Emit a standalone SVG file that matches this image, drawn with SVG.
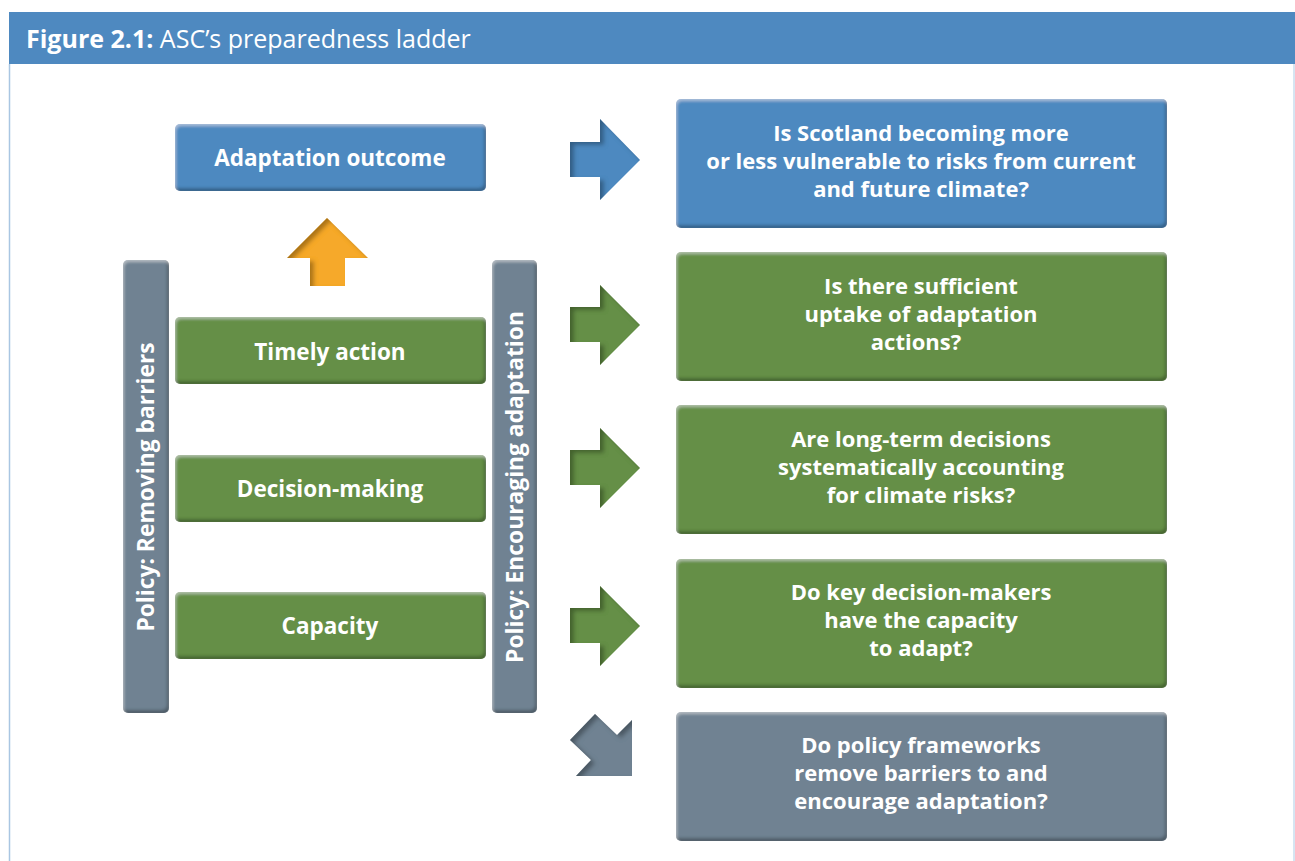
<svg xmlns="http://www.w3.org/2000/svg" width="1295" height="861" viewBox="0 0 1295 861">
<defs>
<style>
.lbl{font-family:"Open Sans","Liberation Sans",sans-serif;font-weight:700;fill:#fff;text-anchor:middle}
.small{font-size:22.5px}
.q{font-size:22px}
.vert{font-size:22.8px}
.blue{fill:#4e89c0}
.green{fill:#658f47}
.gray{fill:#6f8292}
.orange{fill:#f6a92a}
.box{filter:url(#bevel)}
.arr{filter:url(#abevel)}
</style>
<filter id="bevel" x="-5%" y="-5%" width="110%" height="110%">
 <feGaussianBlur in="SourceAlpha" stdDeviation="1.5" result="blur"/>
 <feOffset in="blur" dx="-2" dy="-3" result="offDark"/>
 <feComposite in="SourceAlpha" in2="offDark" operator="out" result="darkEdge"/>
 <feFlood flood-color="#000" flood-opacity="0.5" result="dk"/>
 <feComposite in="dk" in2="darkEdge" operator="in" result="darkShade"/>
 <feOffset in="blur" dx="1" dy="2" result="offLight"/>
 <feComposite in="SourceAlpha" in2="offLight" operator="out" result="lightEdge"/>
 <feFlood flood-color="#fff" flood-opacity="0.35" result="lt"/>
 <feComposite in="lt" in2="lightEdge" operator="in" result="lightShade"/>
 <feMerge><feMergeNode in="SourceGraphic"/><feMergeNode in="darkShade"/><feMergeNode in="lightShade"/></feMerge>
</filter>
<filter id="abevel" x="-5%" y="-5%" width="110%" height="110%">
 <feGaussianBlur in="SourceAlpha" stdDeviation="2" result="blur"/>
 <feOffset in="blur" dx="4" dy="3" result="off"/>
 <feComposite in="SourceAlpha" in2="off" operator="out" result="edge"/>
 <feFlood flood-color="#000" flood-opacity="0.55" result="dk"/>
 <feComposite in="dk" in2="edge" operator="in" result="shade"/>
 <feMerge><feMergeNode in="SourceGraphic"/><feMergeNode in="shade"/></feMerge>
</filter>
</defs>
<rect x="0" y="0" width="1295" height="861" fill="#fff"/>
<g id="frame">
 <rect x="9" y="12" width="1286" height="52" fill="#4e89c0"/>
 <line x1="9.5" y1="64" x2="9.5" y2="861" stroke="#a9c6e2" stroke-width="1.5"/>
 <line x1="1294" y1="64" x2="1294" y2="861" stroke="#c9dcee" stroke-width="1.5"/>
 <text x="26" y="48" font-family="'Open Sans','Liberation Sans',sans-serif" font-size="25" fill="#fff"><tspan font-weight="700">Figure 2.1:</tspan> ASC’s preparedness ladder</text>
</g>
<g id="bar-removing">
 <rect class="box gray" x="123" y="260" width="46" height="453" rx="5"/>
 <text class="lbl vert" transform="translate(154,487) rotate(-90)">Policy: Removing barriers</text>
</g>
<g id="bar-encouraging">
 <rect class="box gray" x="492" y="260" width="45" height="453" rx="5"/>
 <text class="lbl vert" transform="translate(523,487) rotate(-90)">Policy: Encouraging adaptation</text>
</g>
<g id="adaptation-outcome">
 <rect class="box blue" x="175" y="124" width="311" height="67" rx="5"/>
 <text class="lbl small" x="330" y="166">Adaptation outcome</text>
</g>
<g id="timely-action">
 <rect class="box green" x="175" y="317" width="311" height="67" rx="5"/>
 <text class="lbl small" x="330" y="360">Timely action</text>
</g>
<g id="decision-making">
 <rect class="box green" x="175" y="455" width="311" height="67" rx="5"/>
 <text class="lbl small" x="330" y="497">Decision-making</text>
</g>
<g id="capacity">
 <rect class="box green" x="175" y="592" width="311" height="67" rx="5"/>
 <text class="lbl small" x="330" y="634">Capacity</text>
</g>
<g id="q1">
 <rect class="box blue" x="676" y="99" width="491" height="129" rx="5"/>
 <text class="lbl q" x="921" y="141">Is Scotland becoming more</text>
 <text class="lbl q" x="921" y="169">or less vulnerable to risks from current</text>
 <text class="lbl q" x="921" y="197">and future climate?</text>
</g>
<g id="q2">
 <rect class="box green" x="676" y="252" width="491" height="129" rx="5"/>
 <text class="lbl q" x="921" y="294">Is there sufficient</text>
 <text class="lbl q" x="921" y="322">uptake of adaptation</text>
 <text class="lbl q" x="916" y="350">actions?</text>
</g>
<g id="q3">
 <rect class="box green" x="676" y="405" width="491" height="129" rx="5"/>
 <text class="lbl q" x="921" y="447">Are long-term decisions</text>
 <text class="lbl q" x="921" y="475">systematically accounting</text>
 <text class="lbl q" x="921" y="503">for climate risks?</text>
</g>
<g id="q4">
 <rect class="box green" x="676" y="559" width="491" height="129" rx="5"/>
 <text class="lbl q" x="921" y="600">Do key decision-makers</text>
 <text class="lbl q" x="921" y="628">have the capacity</text>
 <text class="lbl q" x="921" y="656">to adapt?</text>
</g>
<g id="q5">
 <rect class="box gray" x="676" y="712" width="491" height="129" rx="5"/>
 <text class="lbl q" x="921" y="753">Do policy frameworks</text>
 <text class="lbl q" x="921" y="781">remove barriers to and</text>
 <text class="lbl q" x="921" y="809">encourage adaptation?</text>
</g>
<g id="connectors">
 <polygon class="arr orange" points="327,218 368,258 345,258 345,286 310,286 310,258 287,258"/>
 <polygon class="arr blue" points="570,142 600,142 600,119 640,160 600,200 600,177 570,177"/>
 <polygon class="arr green" points="570,307 600,307 600,285 640,325 600,365 600,342 570,342"/>
 <polygon class="arr green" points="570,450 600,450 600,428 640,468 600,508 600,485 570,485"/>
 <polygon class="arr green" points="570,608 600,608 600,586 640,626 600,666 600,643 570,643"/>
 <polygon class="arr gray" points="595,714 617,735 632,720 632,776 576,776 591,760 570,740"/>
</g>
</svg>
